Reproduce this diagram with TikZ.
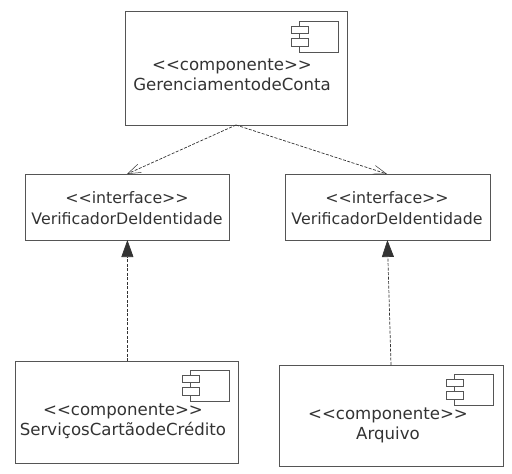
\documentclass[tikz,border=0pt]{standalone}
\usepackage{fontspec}
\setmainfont{DejaVu Sans}
\usetikzlibrary{arrows.meta}
\definecolor{linegray}{HTML}{555555}
\definecolor{inkgray}{HTML}{333333}
\tikzset{
  x=1pt,y=-1pt,
  box/.style={draw=linegray,line width=0.9pt,fill=white,inner sep=0pt,anchor=north west},
  label/.style={text=inkgray,align=center,inner sep=0pt},
  bigtext/.style={label,font=\fontsize{16.6}{20}\selectfont},
  smalltext/.style={label,font=\fontsize{15.8}{21}\selectfont},
  usesdep/.style={draw=inkgray,line width=0.7pt,dash pattern=on 3pt off 1.5pt,-{Straight Barb[length=13pt,width=9pt,line width=0.5pt]}},
  realizes/.style={draw=inkgray,line width=0.7pt,dash pattern=on 3pt off 1.5pt,-{Triangle[length=17pt,width=12pt,fill=inkgray]}},
  icon/.pic={
    \draw[linegray,line width=0.8pt,fill=white] (-39,0) rectangle (0,31);
    \draw[linegray,line width=0.8pt,fill=white] (-47,5) rectangle (-30,12);
    \draw[linegray,line width=0.8pt,fill=white] (-47,17) rectangle (-30,25);
  }
}
\begin{document}
\begin{tikzpicture}
\useasboundingbox (0,0) rectangle (512,474);
\node[box,minimum width=222.5pt,minimum height=114pt] (gerencia) at (124.5,11) {};
\node[box,minimum width=204pt,minimum height=66pt] (ifaceL) at (25,174) {};
\node[box,minimum width=205pt,minimum height=66pt] (ifaceR) at (285,174) {};
\node[box,minimum width=223pt,minimum height=102pt] (servicos) at (15,361) {};
\node[box,minimum width=224pt,minimum height=101pt] (arquivo) at (279,365) {};
\pic at (338,21) {icon};
\pic at (229,370) {icon};
\pic at (493,374) {icon};
\node[bigtext] (t1) at (232,75) {<{}<componente>{}>\\GerenciamentodeConta};
\node[smalltext] (t2) at (127,208) {<{}<interface>{}>\\VerificadorDeIdentidade};
\node[smalltext] (t3) at (387,208) {<{}<interface>{}>\\VerificadorDeIdentidade};
\node[bigtext] (t4) at (123,421.5) {<{}<componente>{}>\\ServiçosCartãodeCrédito};
\node[bigtext] (t5) at (388,425.5) {<{}<componente>{}>\\Arquivo};
\coordinate (gs) at (236,125);
\coordinate (lt) at (127,174);
\coordinate (rt) at (387,174);
\coordinate (lb) at (127.4,240);
\coordinate (rb) at (387.4,240);
\coordinate (sv) at (127.4,361);
\coordinate (aq) at (391,365);
\draw[usesdep] (gs) -- (lt);
\draw[usesdep] (gs) -- (rt);
\draw[realizes] (sv) -- (lb);
\draw[realizes] (aq) -- (rb);
\end{tikzpicture}
\end{document}
